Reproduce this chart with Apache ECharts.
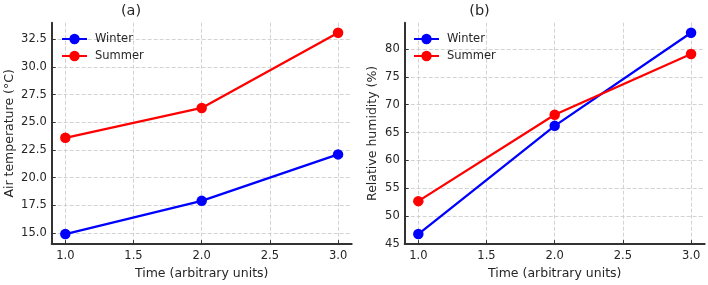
<!DOCTYPE html>
<html>
<head>
<meta charset="utf-8">
<script src="https://cdn.jsdelivr.net/npm/echarts@6/dist/echarts.min.js"></script>
<style>html,body{margin:0;padding:0;background:#fff}#c{width:708px;height:285px}</style>
</head>
<body>
<div id="c"></div>
<script>
const timePoints = [1.0, 2.0, 3.0];
const tempWinter = [14.9, 17.9, 22.1];
const tempSummer = [23.6, 26.3, 33.1];
const humWinter = [46.8, 66.2, 82.9];
const humSummer = [52.7, 68.2, 79.1];
const xTicks = [1.0, 1.5, 2.0, 2.5, 3.0];
const tempTicks = [15.0, 17.5, 20.0, 22.5, 25.0, 27.5, 30.0, 32.5];
const humTicks = [45, 50, 55, 60, 65, 70, 75, 80];
const seriesNames = ['Winter', 'Summer'];
const panelTitles = ['(a)', '(b)'];
const xLabel = 'Time (arbitrary units)';
const yLabels = ['Air temperature (°C)', 'Relative humidity (%)'];

const FONT = 'DejaVu Sans';
const TXT = '#262626';
function pad(arrs) {
  const all = [].concat(...arrs);
  const mn = Math.min(...all);
  const mx = Math.max(...all);
  const m = (mx - mn) * 0.05;
  return [mn - m, mx + m];
}
const xr = pad([timePoints]);
const tr = pad([tempWinter, tempSummer]);
const hr = pad([humWinter, humSummer]);

function xAxis(gi) {
  return {
    type: 'value', gridIndex: gi, min: xr[0], max: xr[1],
    name: xLabel, nameLocation: 'middle', nameGap: 22,
    nameTextStyle: {fontFamily: FONT, fontSize: 12.5, color: TXT},
    axisLine: {show: true, lineStyle: {color: '#333', width: 2}},
    axisTick: {show: true, inside: true, length: 4, customValues: xTicks, lineStyle: {color: '#333', width: 1}},
    axisLabel: {customValues: xTicks, margin: 6, fontFamily: FONT, fontSize: 11.5, color: TXT, formatter: v => v.toFixed(1)},
    splitLine: {show: true, lineStyle: {color: '#c8c8c8', type: [4, 2], width: 0.8}}
  };
}
function yAxis(gi, r, ticks, fmt, name, gap) {
  return {
    type: 'value', gridIndex: gi, min: r[0], max: r[1],
    name: name, nameLocation: 'middle', nameGap: gap,
    nameTextStyle: {fontFamily: FONT, fontSize: 12.5, color: TXT},
    axisLine: {show: true, lineStyle: {color: '#333', width: 2}},
    axisTick: {show: true, inside: true, length: 4, customValues: ticks, lineStyle: {color: '#333', width: 1}},
    axisLabel: {customValues: ticks, margin: 5, fontFamily: FONT, fontSize: 11.5, color: TXT, formatter: fmt},
    splitLine: {show: true, lineStyle: {color: '#c8c8c8', type: [4, 2], width: 0.8}}
  };
}
function line(name, gi, ys, color) {
  return {
    type: 'line', name: name, xAxisIndex: gi, yAxisIndex: gi,
    data: timePoints.map((t, i) => [t, ys[i]]),
    symbol: 'circle', symbolSize: 10.5,
    lineStyle: {color: color, width: 2.3},
    itemStyle: {color: color},
    animation: false
  };
}
function legend(left) {
  return {
    data: seriesNames, orient: 'vertical', left: left, top: 28,
    itemWidth: 25, itemHeight: 13, itemGap: 5,
    textStyle: {fontFamily: FONT, fontSize: 11.5, color: TXT, padding: [0, 0, 0, 3]}
  };
}
const chart = echarts.init(document.getElementById('c'), null, {renderer: 'canvas'});
chart.setOption({
  animation: false,
  backgroundColor: '#fff',
  title: [
    {text: panelTitles[0], left: 126, top: -1, textAlign: 'center', textStyle: {fontFamily: FONT, fontSize: 14.5, fontWeight: 'normal', color: TXT}},
    {text: panelTitles[1], left: 474.5, top: -1, textAlign: 'center', textStyle: {fontFamily: FONT, fontSize: 14.5, fontWeight: 'normal', color: TXT}}
  ],
  legend: [legend(56), legend(408)],
  grid: [
    {left: 51.7, top: 22.7, width: 300, height: 224.3},
    {left: 404.7, top: 22.7, width: 300, height: 224.3}
  ],
  xAxis: [xAxis(0), xAxis(1)],
  yAxis: [
    yAxis(0, tr, tempTicks, v => v.toFixed(1), yLabels[0], 35),
    yAxis(1, hr, humTicks, v => String(v), yLabels[1], 25)
  ],
  series: [
    line(seriesNames[0], 0, tempWinter, '#0000ff'),
    line(seriesNames[1], 0, tempSummer, '#ff0000'),
    line(seriesNames[0], 1, humWinter, '#0000ff'),
    line(seriesNames[1], 1, humSummer, '#ff0000')
  ]
});
</script>
</body>
</html>
